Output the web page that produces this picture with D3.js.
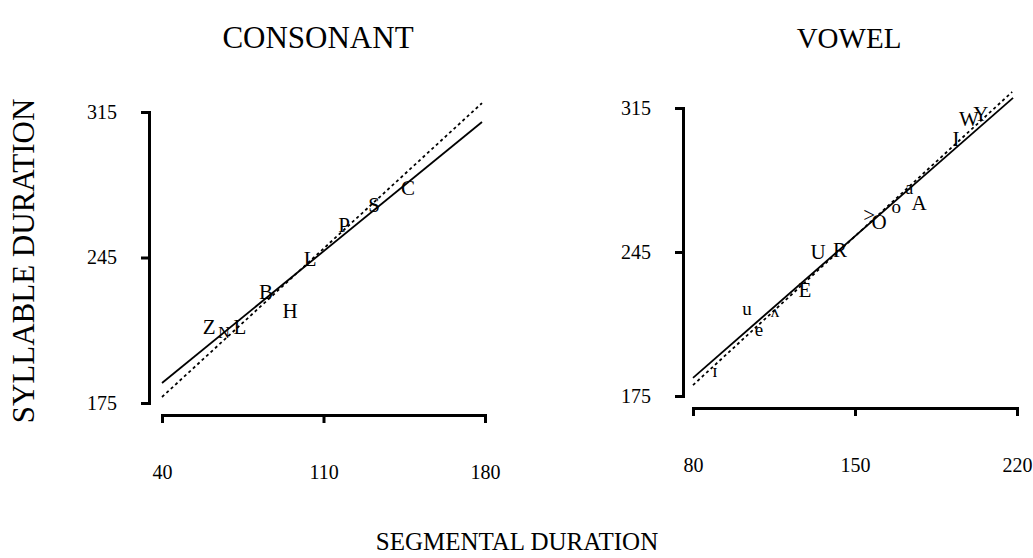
<!DOCTYPE html>
<html>
<head>
<meta charset="utf-8">
<script src="https://cdn.jsdelivr.net/npm/d3@7"></script>
<style>
  body { margin: 0; background: #fff; }
  svg { display: block; font-family: "Liberation Serif", "DejaVu Serif", serif; }
  .domain { stroke: #000; stroke-width: 3; fill: none; }
  .tick line { stroke: #000; stroke-width: 3; }
  .tick text { font-family: "Liberation Serif", "DejaVu Serif", serif; font-size: 20px; fill: #000; }
</style>
</head>
<body>
<div class="svg-container"></div>
<script>
// consonant panel
var consLabels = ['Z', 'N', 'L', 'B', 'H', 'L', 'P', 'S', 'C'];
var consSeg = [60.4, 66.9, 73.8, 85.1, 95.5, 104.2, 118.9, 131.9, 146.6];
var consSyl = [211.6, 209.0, 211.6, 228.4, 219.3, 244.3, 260.6, 270.2, 278.4];
var consFitSolid = [[40, 184.6], [178.7, 310.2]];
var consFitDotted = [[40, 177.9], [178.7, 319.3]];

// vowel panel
var vowLabels = ['ɪ', 'u', 'e', 'ʌ', 'E', 'U', 'R', '>', 'O', 'o', 'a', 'A', 'I', 'W', 'Y'];
var vowSeg = [89.5, 103.3, 108.5, 115.4, 128.4, 134.0, 143.5, 156.1, 160.4, 167.8, 173.4, 177.7, 193.6, 199.2, 204.4];
var vowSyl = [187.6, 217.8, 207.6, 216.3, 226.5, 245.0, 246.0, 263.0, 259.6, 267.4, 276.2, 268.9, 300.1, 309.8, 312.2];
var vowFitSolid = [[80, 183.8], [218.3, 319.9]];
var vowFitDotted = [[80, 180.3], [217.9, 322.8]];

var consTicksX = [40, 110, 180];
var vowTicksX = [80, 150, 220];
var sylTicks = [175, 245, 315];

var smallLabels = { 'N': 16, 'a': 18, 'o': 19, 'u': 19, 'e': 19, 'ʌ': 17, 'ɪ': 19 };

var svg = d3.select('.svg-container').append('svg')
  .attr('width', 1033)
  .attr('height', 558);

function drawPanel(p) {
  var x = d3.scaleLinear().domain(p.xDomain).range([p.x0, p.x1]);
  var y = d3.scaleLinear().domain([175, 315]).range([p.y0, p.y1]);

  svg.append('g')
    .attr('transform', 'translate(' + p.yAxisX + ',0)')
    .call(d3.axisLeft(y).tickValues(sylTicks).tickSize(8).tickPadding(24).tickFormat(d3.format('d')));

  svg.append('g')
    .attr('transform', 'translate(0,' + p.xAxisY + ')')
    .call(d3.axisBottom(x).tickValues(p.xTicks).tickSize(8).tickPadding(42).tickFormat(d3.format('d')));

  var line = d3.line()
    .x(function(d) { return x(d[0]); })
    .y(function(d) { return y(d[1]); });

  svg.append('path')
    .datum(p.dotted)
    .attr('d', line)
    .attr('fill', 'none')
    .attr('stroke', '#000')
    .attr('stroke-width', 1.8)
    .attr('stroke-dasharray', '3,3');

  svg.append('path')
    .datum(p.solid)
    .attr('d', line)
    .attr('fill', 'none')
    .attr('stroke', '#000')
    .attr('stroke-width', 1.8);

  svg.selectAll(null)
    .data(p.labels.map(function(l, i) { return { name: l, seg: p.seg[i], syl: p.syl[i] }; }))
    .enter()
    .append('text')
    .attr('x', function(d) { return x(d.seg); })
    .attr('y', function(d) { return y(d.syl); })
    .attr('dy', '0.35em')
    .attr('text-anchor', 'middle')
    .style('font-size', function(d) { return (smallLabels[d.name] || 21) + 'px'; })
    .text(function(d) { return d.name; });

  svg.append('text')
    .attr('x', p.titleX)
    .attr('y', 48)
    .attr('text-anchor', 'middle')
    .style('font-size', p.titleSize + 'px')
    .text(p.title);
}

drawPanel({
  title: 'CONSONANT', titleX: 318, titleSize: 31,
  xDomain: [40, 180], x0: 162, x1: 485, xTicks: consTicksX,
  y0: 403, y1: 112, yAxisX: 149, xAxisY: 415,
  labels: consLabels, seg: consSeg, syl: consSyl,
  solid: consFitSolid, dotted: consFitDotted
});

drawPanel({
  title: 'VOWEL', titleX: 849, titleSize: 29,
  xDomain: [80, 220], x0: 693, x1: 1017, xTicks: vowTicksX,
  y0: 396, y1: 108, yAxisX: 683, xAxisY: 408,
  labels: vowLabels, seg: vowSeg, syl: vowSyl,
  solid: vowFitSolid, dotted: vowFitDotted
});

svg.append('text')
  .attr('transform', 'translate(34,261) rotate(-90)')
  .attr('text-anchor', 'middle')
  .style('font-size', '31px')
  .text('SYLLABLE DURATION');

svg.append('text')
  .attr('x', 517)
  .attr('y', 550)
  .attr('text-anchor', 'middle')
  .style('font-size', '25px')
  .text('SEGMENTAL DURATION');
</script>
</body>
</html>
